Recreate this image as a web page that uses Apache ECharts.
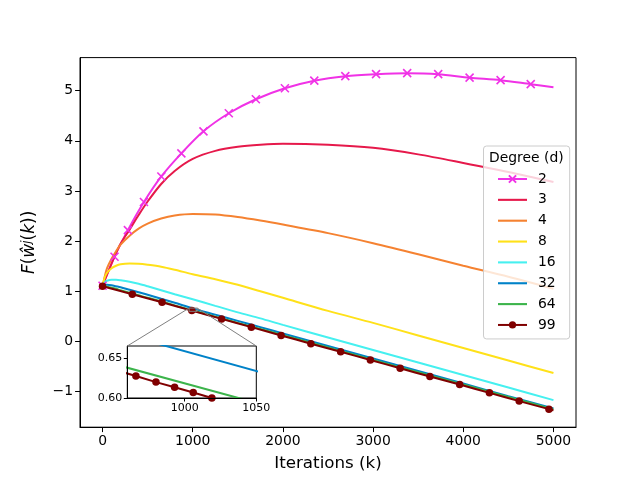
<!DOCTYPE html>
<html>
<head>
<meta charset="utf-8">
<script src="https://cdn.jsdelivr.net/npm/echarts@6/dist/echarts.min.js"></script>
<style>
  html, body { margin: 0; padding: 0; background: #fff; }
  #chart { width: 640px; height: 480px; }
</style>
</head>
<body>
<div id="chart"></div>
<script>
(function(){
    // shared iteration grid for the plain curves
    const iters = [0, 25, 50, 100, 150, 200, 300, 400, 500, 650, 800, 1000, 1250, 1500, 1750, 2000, 2500, 3000, 3500, 4000, 4500, 5000];

    const d3  = [1.10, 1.22, 1.33, 1.55, 1.76, 1.95, 2.23, 2.52, 2.79, 3.14, 3.40, 3.64, 3.80, 3.88, 3.92, 3.94, 3.92, 3.86, 3.73, 3.56, 3.38, 3.18];
    const d4  = [1.10, 1.30, 1.46, 1.65, 1.80, 1.93, 2.11, 2.25, 2.35, 2.45, 2.51, 2.54, 2.53, 2.48, 2.41, 2.33, 2.16, 1.96, 1.74, 1.51, 1.29, 1.05];
    const d8  = [1.10, 1.28, 1.37, 1.46, 1.51, 1.54, 1.555, 1.55, 1.53, 1.49, 1.43, 1.34, 1.24, 1.13, 1.00, 0.87, 0.61, 0.37, 0.12, -0.13, -0.38, -0.63];
    const d16 = [1.10, 1.18, 1.21, 1.23, 1.23, 1.22, 1.19, 1.15, 1.10, 1.02, 0.94, 0.84, 0.71, 0.58, 0.46, 0.33, 0.08, -0.17, -0.42, -0.67, -0.92, -1.17];
    const d32 = [1.11, 1.13, 1.13, 1.12, 1.10, 1.08, 1.03, 0.98, 0.93, 0.85, 0.77, 0.66, 0.535, 0.41, 0.285, 0.16, -0.09, -0.34, -0.59, -0.84, -1.09, -1.335];
    const d64 = [1.10, 1.10, 1.09, 1.07, 1.05, 1.02, 0.97, 0.92, 0.87, 0.80, 0.72, 0.618, 0.495, 0.37, 0.25, 0.125, -0.12, -0.37, -0.615, -0.86, -1.105, -1.355];

    // marked curves (markers sit on every point except the line end)
    const d2Iters = [0, 133, 281, 459, 652, 874, 1119, 1400, 1700, 2022, 2348, 2692, 3033, 3378, 3722, 4070, 4414, 4748, 5000];
    const d2      = [1.11, 1.69, 2.22, 2.78, 3.29, 3.75, 4.19, 4.55, 4.83, 5.05, 5.20, 5.29, 5.33, 5.35, 5.33, 5.26, 5.21, 5.13, 5.07];
    const d99Iters = [0, 330, 660, 990, 1320, 1650, 1980, 2310, 2640, 2970, 3300, 3630, 3960, 4290, 4620, 4950, 5000];
    const d99      = [1.10, 0.94, 0.78, 0.615, 0.45, 0.285, 0.12, -0.045, -0.205, -0.37, -0.535, -0.70, -0.86, -1.025, -1.19, -1.35, -1.375];

    // inset (zoom on k ~ 1000)
    const insetIters = [950, 1060];
    const ins32 = [0.684, 0.629];
    const ins64 = [0.643, 0.589];
    const ins99Iters = [950, 966, 980, 993, 1006, 1019, 1060];
    const ins99      = [0.636, 0.6277, 0.620, 0.6135, 0.607, 0.600, 0.579];

    const xTicks = [0, 1000, 2000, 3000, 4000, 5000];
    const yTicks = [-1, 0, 1, 2, 3, 4, 5];
    const insetXTicks = [1000, 1050];
    const insetYTicks = [0.60, 0.65];
    const insetX = [960, 1050];
    const insetY = [0.60, 0.6655];

    const degrees = ['2', '3', '4', '8', '16', '32', '64', '99'];
    const colors = ['#f032e6', '#e6194b', '#f58231', '#ffe119', '#46f0f0', '#0082c8', '#3cb44b', '#800000'];

    const FONT = 'DejaVu Sans';
    const CROSS = 'path://M0,0L10,10M10,0L0,10';
    const BAR = 'path://M0,0L29,0L29,2.1L0,2.1Z';   // plain line sample for the legend

    let pairs = function(xs, ys){
        return xs.map((x, i) => [x, ys[i]]);
    };
    let marked = function(xs, ys, isMarked){
        return xs.map((x, i) => isMarked(i) ? [x, ys[i]] : {value: [x, ys[i]], symbol: 'none'});
    };
    let minus = v => (v < 0 ? '\u2212' + Math.abs(v) : String(v));

    let plain = function(name, data, color, extra){
        return Object.assign({
            name: name,
            type: 'line',
            data: data,
            smooth: 0.3,
            symbol: 'none',
            lineStyle: {color: color, width: 2},
            itemStyle: {color: color},
            emphasis: {disabled: true},
            animation: false
        }, extra || {});
    };

    let series = [
        plain('2', marked(d2Iters, d2, i => i < d2Iters.length - 1), colors[0], {
            symbol: CROSS, symbolSize: 8,
            itemStyle: {color: colors[0], borderColor: colors[0], borderWidth: 1.6}
        }),
        plain('3', pairs(iters, d3), colors[1]),
        plain('4', pairs(iters, d4), colors[2]),
        plain('8', pairs(iters, d8), colors[3]),
        plain('16', pairs(iters, d16), colors[4]),
        plain('32', pairs(iters, d32), colors[5]),
        plain('64', pairs(iters, d64), colors[6]),
        plain('99', marked(d99Iters, d99, i => i < d99Iters.length - 1), colors[7], {
            symbol: 'circle', symbolSize: 7.5
        }),
        // inset copies
        plain('32', pairs(insetIters, ins32), colors[5], {xAxisIndex: 1, yAxisIndex: 1, smooth: false, z: 6}),
        plain('64', pairs(insetIters, ins64), colors[6], {xAxisIndex: 1, yAxisIndex: 1, smooth: false, z: 6}),
        plain('99', marked(ins99Iters, ins99, i => i > 0 && i < ins99Iters.length - 1), colors[7], {
            xAxisIndex: 1, yAxisIndex: 1, smooth: false, symbol: 'circle', symbolSize: 7.5, z: 6
        })
    ];

    let tickStyle = {show: true, inside: false, length: 4.9, lineStyle: {color: '#000', width: 1}};
    let spine = {show: true, onZero: false, lineStyle: {color: '#000', width: 1}};

    let legendData = degrees.map(d => (d === '2' || d === '99') ? {name: d} : {name: d, icon: BAR});

    let opts = {
        backgroundColor: '#fff',
        animation: false,
        textStyle: {fontFamily: FONT},
        grid: [
            {left: 80, right: 64, top: 57.6, bottom: 52.8, show: true, borderColor: '#000', borderWidth: 1, backgroundColor: 'transparent'},
            {left: 127.3, top: 346, width: 129, height: 52, show: true, borderColor: '#000', borderWidth: 1, backgroundColor: '#fff', z: 3}
        ],
        xAxis: [
            {
                type: 'value', gridIndex: 0, min: -250, max: 5250,
                name: 'Iterations (k)', nameLocation: 'middle', nameGap: 28,
                nameTextStyle: {fontFamily: FONT, fontSize: 16.7, color: '#000'},
                axisLine: spine,
                splitLine: {show: false},
                axisTick: Object.assign({customValues: xTicks}, tickStyle),
                axisLabel: {customValues: xTicks, fontFamily: FONT, fontSize: 13.9, color: '#000', margin: 7, formatter: minus}
            },
            {
                type: 'value', gridIndex: 1, min: insetX[0], max: insetX[1], z: 7,
                axisLine: spine,
                splitLine: {show: false},
                axisTick: Object.assign({customValues: insetXTicks}, tickStyle, {length: 3.5}),
                axisLabel: {customValues: insetXTicks, fontFamily: FONT, fontSize: 11, color: '#000', margin: 5, formatter: minus}
            }
        ],
        yAxis: [
            {
                type: 'value', gridIndex: 0, min: -1.71, max: 5.66,
                name: '{i|F}{n|(}{i|\u0175}{s|j}{n|(}{i|k}{n|))}',
                nameLocation: 'middle', nameGap: 26, nameRotate: 90,
                nameTextStyle: {
                    fontFamily: FONT, color: '#000',
                    rich: {
                        i: {fontFamily: FONT, fontStyle: 'italic', fontSize: 17, lineHeight: 20, verticalAlign: 'top', color: '#000'},
                        n: {fontFamily: FONT, fontSize: 17, lineHeight: 20, verticalAlign: 'top', color: '#000'},
                        s: {fontFamily: FONT, fontStyle: 'italic', fontSize: 12, lineHeight: 33, verticalAlign: 'top', color: '#000'}
                    }
                },
                axisLine: spine,
                splitLine: {show: false},
                axisTick: Object.assign({customValues: yTicks}, tickStyle),
                axisLabel: {customValues: yTicks, fontFamily: FONT, fontSize: 13.9, color: '#000', margin: 7, formatter: minus}
            },
            {
                type: 'value', gridIndex: 1, min: insetY[0], max: insetY[1], z: 7,
                axisLine: spine,
                splitLine: {show: false},
                axisTick: Object.assign({customValues: insetYTicks}, tickStyle, {length: 3.5}),
                axisLabel: {customValues: insetYTicks, fontFamily: FONT, fontSize: 11, color: '#000', margin: 5,
                    formatter: v => v.toFixed(2)}
            }
        ],
        legend: {
            data: legendData,
            orient: 'vertical',
            left: 483.5, top: 146,
            padding: [26, 14, 7, 13.5],
            itemWidth: 29, itemHeight: 9, itemGap: 6.85,
            backgroundColor: 'rgba(255,255,255,0.8)',
            borderColor: '#cccccc', borderWidth: 1, borderRadius: 3,
            textStyle: {fontFamily: FONT, fontSize: 13.9, color: '#000', lineHeight: 14, padding: [0, 0, 0, 6]},
            selectedMode: false
        },
        series: series
    };

    let chart = echarts.init(document.getElementById('chart'), null, {renderer: 'canvas'});
    chart.setOption(opts);

    // zoom rectangle + connectors, placed through the axes' own scales
    let lo = chart.convertToPixel({gridIndex: 0}, [insetX[0], insetY[0]]);
    let hi = chart.convertToPixel({gridIndex: 0}, [insetX[1], insetY[1]]);
    let insUL = chart.convertToPixel({gridIndex: 1}, [insetX[0], insetY[1]]);
    let insUR = chart.convertToPixel({gridIndex: 1}, [insetX[1], insetY[1]]);
    let gray = {stroke: '#808080', lineWidth: 1, fill: null};

    chart.setOption({
        graphic: [
            {type: 'rect', z: 10, shape: {x: lo[0], y: hi[1], width: hi[0] - lo[0], height: lo[1] - hi[1]}, style: gray, silent: true},
            {type: 'line', z: 10, shape: {x1: insUL[0], y1: insUL[1], x2: lo[0], y2: hi[1]}, style: gray, silent: true},
            {type: 'line', z: 10, shape: {x1: insUR[0], y1: insUR[1], x2: hi[0], y2: hi[1]}, style: gray, silent: true},
            {type: 'text', z: 10, left: 489, top: 151,
                style: {text: 'Degree (d)', font: '13.9px "DejaVu Sans"', fill: '#000'}, silent: true}
        ]
    });
})();
</script>
</body>
</html>
